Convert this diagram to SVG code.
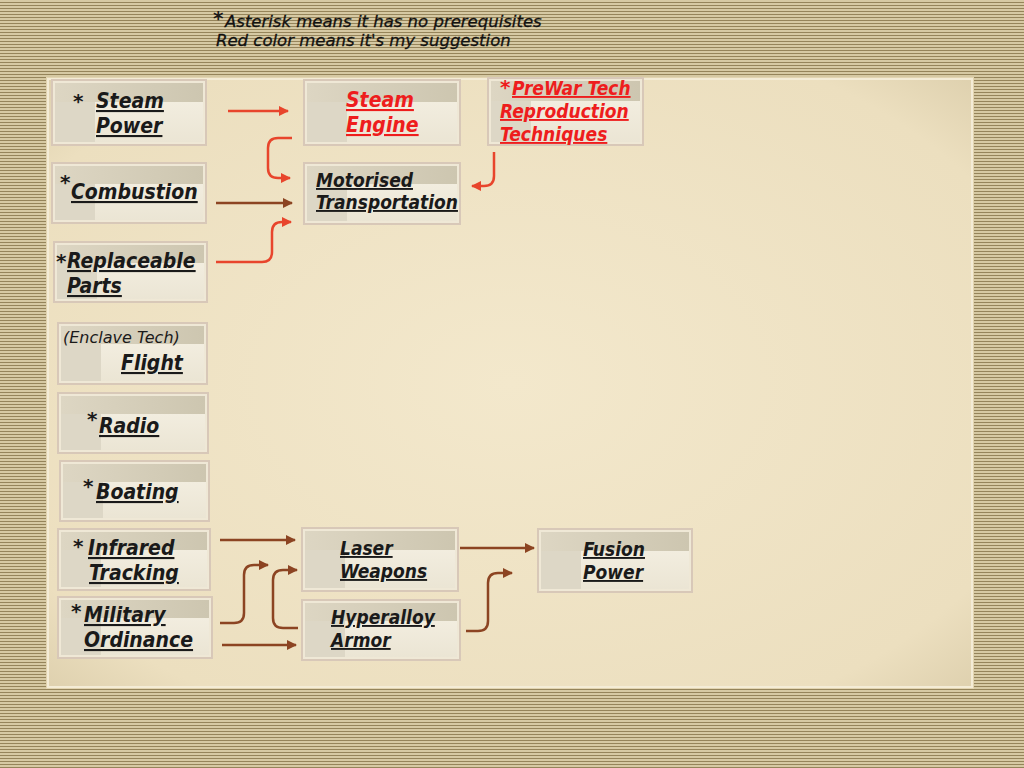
<svg xmlns="http://www.w3.org/2000/svg" width="1024" height="768" viewBox="0 0 1024 768">
<defs>
<pattern id="stripes" width="4" height="3" patternUnits="userSpaceOnUse">
<rect width="4" height="3" fill="#d6c9a3"/>
<rect y="2" width="4" height="1" fill="#95845a"/>
</pattern>
<radialGradient id="parch" cx="0.5" cy="0.5" r="0.75">
<stop offset="0" stop-color="#f3e8cc"/>
<stop offset="0.8" stop-color="#ecdfbf"/>
<stop offset="1" stop-color="#d9cba8"/>
</radialGradient>
<linearGradient id="band" x1="0" y1="0" x2="1" y2="0">
<stop offset="0" stop-color="#ddd6c3"/>
<stop offset="1" stop-color="#cdc6b0"/>
</linearGradient>
<linearGradient id="lower" x1="0" y1="0" x2="0" y2="1">
<stop offset="0" stop-color="#f2eddf"/>
<stop offset="1" stop-color="#ebe5d4"/>
</linearGradient>
<marker id="ar" viewBox="0 0 10 10" refX="9" refY="5" markerWidth="4" markerHeight="4" orient="auto" markerUnits="strokeWidth">
<path d="M0,0 L10,5 L0,10 z" fill="#e8452c"/>
</marker>
<marker id="ab" viewBox="0 0 10 10" refX="9" refY="5" markerWidth="4" markerHeight="4" orient="auto" markerUnits="strokeWidth">
<path d="M0,0 L10,5 L0,10 z" fill="#8c4422"/>
</marker>
</defs>
<style>
.box{fill:#efe8d6;stroke:#d8c8b8;stroke-width:2}
.band{fill:url(#band)}
.low{fill:url(#lower)}
.lft{fill:#ddd7c6}
.t{font-family:"DejaVu Sans Condensed","DejaVu Sans",sans-serif;font-weight:bold;font-style:italic;font-size:21px;fill:#1a1a1a;text-decoration:underline}
.ast{font-family:"DejaVu Sans",sans-serif;font-weight:bold;font-size:20px;fill:#1a1a1a}
.r{fill:#ee1d1d}
.s{font-size:19px}
.n{font-family:"DejaVu Sans",sans-serif;font-style:italic;font-size:16px;fill:#1a1a1a}
.lg{font-family:"DejaVu Sans",sans-serif;font-style:italic;font-size:16.5px;fill:#111;stroke:#111;stroke-width:0.3}
.cr{fill:none;stroke:#e8452c;stroke-width:2.5;marker-end:url(#ar)}
.cb{fill:none;stroke:#8c4422;stroke-width:2.5;marker-end:url(#ab)}
</style>
<rect width="1024" height="768" fill="url(#stripes)"/>
<rect x="46" y="77" width="928" height="612" fill="#e2d4b0"/>
<rect x="48" y="79" width="924" height="608" fill="url(#parch)" stroke="#f4ecd6" stroke-width="2"/>
<g id="legend">
<text class="ast" x="213" y="25">*</text>
<text class="lg" x="225" y="27">Asterisk means it has no prerequisites</text>
<text class="lg" x="216" y="46">Red color means it's my suggestion</text>
</g>
<g id="connectors">
<path class="cr" d="M228,111 H288"/>
<path class="cr" d="M292,138 H278 Q268,138 268,148 V168 Q268,178 278,178 H290"/>
<path class="cb" d="M216,203 H292"/>
<path class="cr" d="M216,262 H262 Q272,262 272,252 V232 Q272,222 282,222 H291"/>
<path class="cr" d="M494,152 V176 Q494,186 484,186 H472"/>
<path class="cb" d="M220,540 H295"/>
<path class="cb" d="M220,623 H234 Q244,623 244,613 V575 Q244,565 254,565 H268"/>
<path class="cb" d="M298,628 H283 Q273,628 273,618 V580 Q273,570 283,570 H297"/>
<path class="cb" d="M222,645 H296"/>
<path class="cb" d="M460,548 H534"/>
<path class="cb" d="M466,631 H478 Q488,631 488,621 V583 Q488,573 498,573 H512"/>
</g>
<g id="steam-power">
<rect class="box" x="52" y="80" width="154" height="65"/><rect class="band" x="55" y="83" width="148" height="19"/><rect class="lft" x="55" y="102" width="40" height="40"/><rect class="low" x="95" y="102" width="108" height="40"/>
<text class="ast" x="73" y="108">*</text>
<text class="t" x="96" y="108">Steam</text><text class="t" x="96" y="133">Power</text>
</g>
<g id="steam-engine">
<rect class="box" x="304" y="80" width="156" height="65"/><rect class="band" x="307" y="83" width="150" height="19"/><rect class="lft" x="307" y="102" width="40" height="40"/><rect class="low" x="347" y="102" width="110" height="40"/>
<text class="t r" x="346" y="107">Steam</text><text class="t r" x="346" y="132">Engine</text>
</g>
<g id="prewar-tech">
<rect class="box" x="488" y="78" width="155" height="67"/><rect class="band" x="491" y="81" width="149" height="20"/><rect class="lft" x="491" y="101" width="40" height="41"/><rect class="low" x="531" y="101" width="109" height="41"/>
<text class="ast r" x="500" y="94" font-size="18">*</text>
<text class="t r s" x="512" y="95">PreWar Tech</text><text class="t r s" x="500" y="118">Reproduction</text><text class="t r s" x="500" y="141">Techniques</text>
</g>
<g id="combustion">
<rect class="box" x="52" y="163" width="154" height="60"/><rect class="band" x="55" y="166" width="148" height="18"/><rect class="lft" x="55" y="184" width="40" height="36"/><rect class="low" x="95" y="184" width="108" height="36"/>
<text class="ast" x="60" y="189">*</text>
<text class="t" x="71" y="199">Combustion</text>
</g>
<g id="motorised-transportation">
<rect class="box" x="304" y="163" width="156" height="61"/><rect class="band" x="307" y="166" width="150" height="18"/><rect class="lft" x="307" y="184" width="40" height="37"/><rect class="low" x="347" y="184" width="110" height="37"/>
<text class="t s" x="316" y="187">Motorised</text><text class="t s" x="316" y="209">Transportation</text>
</g>
<g id="replaceable-parts">
<rect class="box" x="54" y="242" width="153" height="60"/><rect class="band" x="57" y="245" width="147" height="18"/><rect class="lft" x="57" y="263" width="40" height="36"/><rect class="low" x="97" y="263" width="107" height="36"/>
<text class="ast" x="56" y="268">*</text>
<text class="t" x="67" y="268">Replaceable</text><text class="t" x="67" y="293">Parts</text>
</g>
<g id="flight">
<rect class="box" x="58" y="323" width="149" height="61"/><rect class="band" x="61" y="326" width="143" height="18"/><rect class="lft" x="61" y="344" width="40" height="37"/><rect class="low" x="101" y="344" width="103" height="37"/>
<text class="n" x="63" y="343">(Enclave Tech)</text>
<text class="t" x="121" y="370">Flight</text>
</g>
<g id="radio">
<rect class="box" x="58" y="393" width="150" height="60"/><rect class="band" x="61" y="396" width="144" height="18"/><rect class="lft" x="61" y="414" width="40" height="36"/><rect class="low" x="101" y="414" width="104" height="36"/>
<text class="ast" x="87" y="426">*</text>
<text class="t" x="99" y="433">Radio</text>
</g>
<g id="boating">
<rect class="box" x="60" y="461" width="149" height="60"/><rect class="band" x="63" y="464" width="143" height="18"/><rect class="lft" x="63" y="482" width="40" height="36"/><rect class="low" x="103" y="482" width="103" height="36"/>
<text class="ast" x="83" y="493">*</text>
<text class="t" x="96" y="499">Boating</text>
</g>
<g id="infrared-tracking">
<rect class="box" x="58" y="529" width="152" height="61"/><rect class="band" x="61" y="532" width="146" height="18"/><rect class="lft" x="61" y="550" width="40" height="37"/><rect class="low" x="101" y="550" width="106" height="37"/>
<text class="ast" x="73" y="553">*</text>
<text class="t" x="88" y="555">Infrared</text><text class="t" x="89" y="580">Tracking</text>
</g>
<g id="military-ordinance">
<rect class="box" x="58" y="597" width="154" height="61"/><rect class="band" x="61" y="600" width="148" height="18"/><rect class="lft" x="61" y="618" width="40" height="37"/><rect class="low" x="101" y="618" width="108" height="37"/>
<text class="ast" x="71" y="618">*</text>
<text class="t" x="84" y="622">Military</text><text class="t" x="84" y="647">Ordinance</text>
</g>
<g id="laser-weapons">
<rect class="box" x="302" y="528" width="156" height="63"/><rect class="band" x="305" y="531" width="150" height="19"/><rect class="lft" x="305" y="550" width="40" height="38"/><rect class="low" x="345" y="550" width="110" height="38"/>
<text class="t s" x="340" y="555">Laser</text><text class="t s" x="340" y="578">Weapons</text>
</g>
<g id="hyperalloy-armor">
<rect class="box" x="302" y="600" width="158" height="60"/><rect class="band" x="305" y="603" width="152" height="18"/><rect class="lft" x="305" y="621" width="40" height="36"/><rect class="low" x="345" y="621" width="112" height="36"/>
<text class="t s" x="331" y="624">Hyperalloy</text><text class="t s" x="331" y="647">Armor</text>
</g>
<g id="fusion-power">
<rect class="box" x="538" y="529" width="154" height="63"/><rect class="band" x="541" y="532" width="148" height="19"/><rect class="lft" x="541" y="551" width="40" height="38"/><rect class="low" x="581" y="551" width="108" height="38"/>
<text class="t s" x="583" y="556">Fusion</text><text class="t s" x="583" y="579">Power</text>
</g>
</svg>
